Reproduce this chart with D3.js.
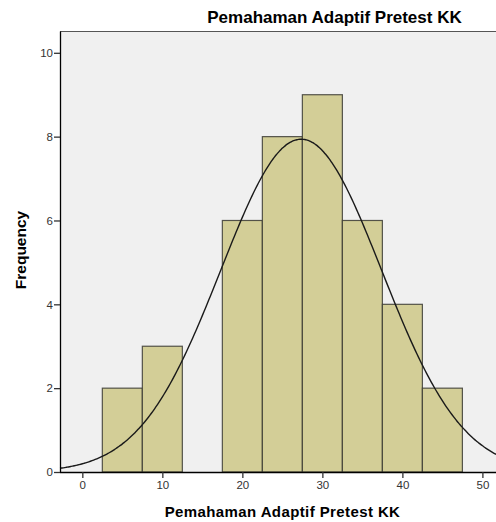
<!DOCTYPE html>
<html>
<head>
<meta charset="utf-8">
<script src="https://cdn.jsdelivr.net/npm/d3@7"></script>
<style>
  body { margin: 0; background: #fff; }
  svg { display: block; font-family: Arial, "Liberation Sans", sans-serif; }
</style>
</head>
<body>
<div class="graph-container"></div>
<script>
// histogram bins (lower edge, upper edge) and counts
var binStarts = [2.5, 7.5, 12.5, 17.5, 22.5, 27.5, 32.5, 37.5, 42.5];
var binEnds = [7.5, 12.5, 17.5, 22.5, 27.5, 32.5, 37.5, 42.5, 47.5];
var counts = [2, 3, 0, 6, 8, 9, 6, 4, 2];
// normal curve parameters
var curveMean = 27.35;
var curveSD = 10.05;
var xTicks = [0, 10, 20, 30, 40, 50];
var yTicks = [0, 2, 4, 6, 8, 10];
var titleText = 'Pemahaman Adaptif Pretest KK';
var xLabel = 'Pemahaman Adaptif Pretest KK';
var yLabel = 'Frequency';

var svgWidth = 496;
var svgHeight = 522;
var plotLeft = 60;
var plotTop = 31;
var plotBottom = 472;
var plotRight = 520;

var xScale = d3.scaleLinear()
    .domain([-2.79, 54.7])
    .range([plotLeft, plotRight]);

var yScale = d3.scaleLinear()
    .domain([0, 10.52])
    .range([plotBottom, plotTop]);

var svg = d3.select('.graph-container').append('svg')
    .attr('width', svgWidth)
    .attr('height', svgHeight);

// plot background
svg.append('rect')
    .attr('x', plotLeft)
    .attr('y', plotTop)
    .attr('width', plotRight - plotLeft)
    .attr('height', plotBottom - plotTop)
    .attr('fill', '#f0f0f0');

svg.append('line')
    .attr('x1', plotLeft).attr('x2', plotRight)
    .attr('y1', plotTop + 0.5).attr('y2', plotTop + 0.5)
    .attr('stroke', '#555')
    .attr('stroke-width', 1);

// bars
var bins = counts.map(function(c, i) { return [binStarts[i], binEnds[i], c]; })
    .filter(function(d) { return d[2] > 0; });

svg.selectAll('rect.bar')
    .data(bins)
    .enter()
    .append('rect')
    .attr('class', 'bar')
    .attr('x', function(d) { return xScale(d[0]); })
    .attr('width', function(d) { return xScale(d[1]) - xScale(d[0]); })
    .attr('y', function(d) { return yScale(d[2]); })
    .attr('height', function(d) { return yScale(0) - yScale(d[2]); })
    .attr('fill', '#d3ce97')
    .attr('stroke', '#3a3a32')
    .attr('stroke-opacity', 0.85)
    .attr('stroke-width', 1.2);

// normal curve
var binWidth = binEnds[0] - binStarts[0];
var total = d3.sum(counts);
var xs = d3.range(-2.79, 54.7, 0.2);
var line = d3.line()
    .x(function(v) { return xScale(v); })
    .y(function(v) {
        var z = (v - curveMean) / curveSD;
        return yScale(total * binWidth / (curveSD * Math.sqrt(2 * Math.PI)) * Math.exp(-0.5 * z * z));
    })
    .curve(d3.curveBasis);

svg.append('path')
    .datum(xs)
    .attr('d', line)
    .attr('fill', 'none')
    .attr('stroke', '#1a1a1a')
    .attr('stroke-width', 1.4);

// axes
var xAxis = d3.axisBottom(xScale).tickValues(xTicks).tickSize(6).tickSizeOuter(0);
var gx = svg.append('g')
    .attr('transform', 'translate(0,' + plotBottom + ')')
    .call(xAxis);

var yAxis = d3.axisLeft(yScale).tickValues(yTicks).tickSize(6).tickSizeOuter(0);
var gy = svg.append('g')
    .attr('transform', 'translate(' + plotLeft + ',0)')
    .call(yAxis);

[gx, gy].forEach(function(g) {
    g.select('.domain').attr('stroke', '#000').attr('stroke-width', 1.3);
    g.selectAll('.tick line').attr('stroke', '#333').attr('stroke-width', 1.3);
    g.selectAll('.tick text')
        .attr('fill', '#333')
        .style('font-size', '11.5px')
        .style('font-family', 'Arial, "Liberation Sans", sans-serif');
});
gx.select('.domain').attr('d', 'M' + plotLeft + ',0.5H' + plotRight);
gy.selectAll('.tick text').attr('x', -7);
gx.selectAll('.tick text').attr('y', 9);

// title
svg.append('text')
    .attr('x', 334.5)
    .attr('y', 23)
    .style('text-anchor', 'middle')
    .style('font-size', '17px')
    .style('font-weight', 'bold')
    .text(titleText);

// x-axis label
svg.append('text')
    .attr('x', 282.5)
    .attr('y', 517)
    .style('text-anchor', 'middle')
    .style('font-size', '15px')
    .style('letter-spacing', '0.4px')
    .style('font-weight', 'bold')
    .text(xLabel);

// y-axis label
svg.append('text')
    .attr('x', -250)
    .attr('y', 26)
    .attr('transform', 'rotate(-90)')
    .style('text-anchor', 'middle')
    .style('font-size', '15.5px')
    .style('font-weight', 'bold')
    .text(yLabel);
</script>
</body>
</html>
